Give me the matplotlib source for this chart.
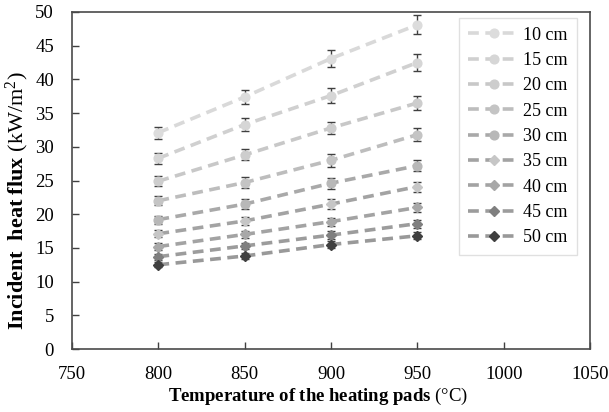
import matplotlib
matplotlib.use("Agg")
import matplotlib.pyplot as plt
import numpy as np

plt.rcParams['font.family'] = ['Liberation Serif', 'DejaVu Serif']
plt.rcParams['mathtext.fontset'] = 'custom'
plt.rcParams['mathtext.rm'] = 'Liberation Serif'
plt.rcParams['mathtext.bf'] = 'Liberation Serif:bold'
plt.rcParams['mathtext.it'] = 'Liberation Serif:italic'

temperatures = [800, 850, 900, 950]
labels = ["10 cm", "15 cm", "20 cm", "25 cm", "30 cm", "35 cm", "40 cm", "45 cm", "50 cm"]
flux = [
    [32.1, 37.4, 43.1, 48.1],
    [28.3, 33.3, 37.6, 42.5],
    [24.9, 28.8, 32.8, 36.5],
    [22.0, 24.7, 28.0, 31.8],
    [19.2, 21.5, 24.6, 27.2],
    [17.1, 19.0, 21.5, 24.1],
    [15.2, 17.0, 18.9, 21.0],
    [13.7, 15.3, 16.9, 18.6],
    [12.5, 13.8, 15.5, 16.8],
]
errors = [
    [0.9, 1.1, 1.2, 1.4],
    [0.85, 0.95, 1.05, 1.3],
    [0.75, 0.8, 0.9, 1.0],
    [0.7, 0.8, 0.95, 1.0],
    [0.6, 0.7, 0.8, 0.85],
    [0.55, 0.6, 0.7, 0.75],
    [0.5, 0.55, 0.6, 0.65],
    [0.45, 0.5, 0.55, 0.6],
    [0.4, 0.45, 0.5, 0.55],
]
marker_colors = ['#dcdcdc', '#d6d6d6', '#cdcdcd', '#c4c4c4', '#b8b8b8',
                 '#c6c6c6', '#a8a8a8', '#7f7f7f', '#404040']
line_colors = ['#d9d9d9', '#d0d0d0', '#c8c8c8', '#bdbdbd', '#a9a9a9',
               '#a3a3a3', '#a3a3a3', '#9c9c9c', '#999999']
markers = ['o', 'o', 'o', 'o', 'o', 'D', 'D', 'D', 'D']
msizes = [6.3, 6.3, 6.3, 6.3, 6.3, 5.2, 5.2, 5.2, 5.2]

fig = plt.figure(figsize=(6.09, 4.12), dpi=100)
ax = fig.add_axes([72/609, 1 - 349/412, (590-72)/609, (349-12)/412])

for i, lab in enumerate(labels):
    ax.errorbar(temperatures, flux[i], yerr=errors[i], fmt='none',
                ecolor='#404040', elinewidth=1.0, capsize=2.6, capthick=1.0, zorder=2)
    ax.plot(temperatures, flux[i], linestyle=(0, (3.0, 1.8)), color=line_colors[i],
            linewidth=2.6, marker=markers[i], markersize=msizes[i],
            markerfacecolor=marker_colors[i], markeredgecolor=marker_colors[i],
            label=lab, zorder=3)

ax.set_xlim(750, 1050)
ax.set_ylim(0, 50)
ax.set_xticks(np.arange(750, 1051, 50))
ax.set_yticks(np.arange(0, 51, 5))
ax.tick_params(direction='in', length=5, width=1, color='#404040', labelsize=13.5)
ax.tick_params(axis='x', pad=12)
ax.tick_params(axis='y', pad=13)
for s in ax.spines.values():
    s.set_color('#4a4a4a')
    s.set_linewidth(1.2)

ax.set_xlabel(r'$\mathbf{Temperature\ of\ the\ heating\ pads}$ (°C)', fontsize=13.5)
ax.xaxis.set_label_coords(0.475, -0.11)
ax.set_ylabel(r'$\mathbf{Incident\ \ heat\ flux}$ (kW/m$^2$)', fontsize=16)
ax.yaxis.set_label_coords(-0.08, 0.44)

leg = ax.legend(loc='upper right', bbox_to_anchor=(0.975, 0.983), fontsize=13,
                frameon=True, fancybox=False, handlelength=2.8, labelspacing=0.46,
                borderpad=0.5, handletextpad=0.25, borderaxespad=0)
leg.get_frame().set_edgecolor('#d9d9d9')
leg.get_frame().set_linewidth(1.0)

fig.savefig('out.png', dpi=100)
